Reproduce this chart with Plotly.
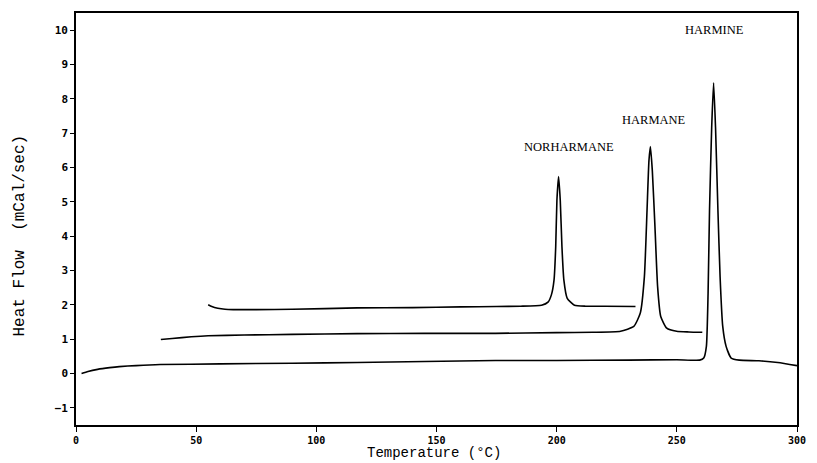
import plotly.graph_objects as go

# ---- data ----
harmine_x = [2.3, 5, 9, 14, 18, 25, 35, 60, 90, 117, 145, 174.5, 200, 230, 250, 259.5, 261.2,
             262.3, 263.0, 263.6, 264.5, 265.3, 266.1, 267.1, 268.0, 269.1, 270.5, 272.6, 276.0,
             284.2, 292, 300]
harmine_y = [0.0, 0.06, 0.12, 0.17, 0.2, 0.23, 0.26, 0.28, 0.3, 0.32, 0.35, 0.38, 0.38, 0.39, 0.4, 0.39, 0.45,
             0.79, 2.34, 4.75, 7.17, 8.47, 7.17, 4.75, 2.82, 1.37, 0.79, 0.45, 0.39,
             0.37, 0.32, 0.23]

harmane_x = [35.3, 40, 48, 55, 70, 90, 117, 145, 174.5, 200, 215, 226.6, 232.1, 234.8, 236.5,
             237.6, 238.4, 239.0, 239.8, 240.9, 242.0, 243.3, 245.8, 249.9, 255, 260.6]
harmane_y = [0.99, 1.02, 1.07, 1.1, 1.12, 1.14, 1.16, 1.17, 1.17, 1.19, 1.2, 1.23, 1.37, 1.76, 2.82,
             4.75, 6.2, 6.61, 5.91, 4.27, 2.53, 1.66, 1.32, 1.23, 1.21, 1.2]

norharmane_x = [55, 56.5, 59, 62, 65.4, 75, 90, 117, 140, 160, 175, 185, 193.7, 196.4, 197.8, 198.9,
                199.6, 200.1, 200.8, 201.5, 202.2, 203.0, 204.4, 207.4, 212, 220, 232.8]
norharmane_y = [2.0, 1.95, 1.9, 1.87, 1.86, 1.86, 1.87, 1.91, 1.92, 1.94, 1.95, 1.96, 1.99, 2.08, 2.29, 2.72,
                3.69, 5.04, 5.74, 5.04, 3.69, 2.72, 2.19, 1.99, 1.96, 1.96, 1.95]

labels = ["HARMINE", "HARMANE", "NORHARMANE"]
label_x = [265.8, 240.3, 205.0]
label_y = [10.0, 7.39, 6.6]

x_ticks = [0, 50, 100, 150, 200, 250, 300]
y_ticks = [-1, 0, 1, 2, 3, 4, 5, 6, 7, 8, 9, 10]

fig = go.Figure()
for xs, ys, name in [(harmine_x, harmine_y, labels[0]),
                     (harmane_x, harmane_y, labels[1]),
                     (norharmane_x, norharmane_y, labels[2])]:
    fig.add_trace(go.Scatter(x=xs, y=ys, mode="lines", name=name,
                             line=dict(color="black", width=1.6, shape="spline", smoothing=0.5),
                             showlegend=False, hoverinfo="skip"))

for t, lx, ly in zip(labels, label_x, label_y):
    fig.add_annotation(x=lx, y=ly, text=t, showarrow=False,
                       font=dict(family="Liberation Serif", size=12.5, color="black"))

fig.add_annotation(xref="paper", yref="paper", x=0.497, y=0, yshift=-37, yanchor="bottom",
                   text="Temperature (°C)", showarrow=False, borderpad=0,
                   font=dict(family="Liberation Mono", size=14, color="black"))
fig.add_annotation(xref="paper", yref="paper", x=0, y=0.46, xshift=-56, xanchor="center",
                   text="Heat Flow  (mCal/sec)", textangle=-90, showarrow=False,
                   font=dict(family="Liberation Mono", size=16, color="black"))

axis_common = dict(showline=True, linecolor="black", linewidth=1.6, mirror=True,
                   showgrid=False, zeroline=False, ticks="outside", tickcolor="black")

fig.update_xaxes(range=[0, 300], tickvals=x_ticks, ticklen=5, tickwidth=1.3,
                 tickfont=dict(family="DejaVu Sans Mono", size=10, color="black", weight="bold"),
                 **axis_common)
fig.update_yaxes(range=[-1.5, 10.5], tickvals=y_ticks, ticklen=4, tickwidth=1.3,
                 tickfont=dict(family="DejaVu Sans Mono", size=11, color="black", weight="bold"),
                 **axis_common)

fig.update_layout(width=817, height=463, margin=dict(l=76, r=12, t=11, b=38),
                  plot_bgcolor="white", paper_bgcolor="white")

fig.write_html("out.html", config={"displayModeBar": False},
               post_script="document.body.style.margin='0';document.body.style.overflow='hidden';")
